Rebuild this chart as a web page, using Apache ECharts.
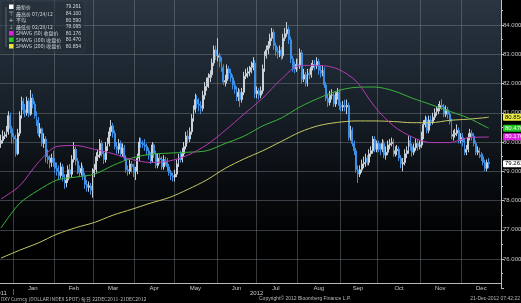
<!DOCTYPE html>
<html><head><meta charset="utf-8">
<script src="https://cdn.jsdelivr.net/npm/echarts@6/dist/echarts.min.js"></script>
<style>html,body{margin:0;padding:0;background:#000;overflow:hidden}#c{width:521px;height:303px}</style>
</head><body><div id="c"></div>
<script>
// ---- data (DXY daily bars, 22 Dec 2011 - 21 Dec 2012) ----
const monthNames = ['Jan','Feb','Mar','Apr','May','Jun','Jul','Aug','Sep','Oct','Nov','Dec'];
const startDate = '2011-12-22', lastTradeDate = '2012-12-21', axisEndDate = '2012-12-31';

const opens = [
79.95,80.05,80.20,80.25,80.35,80.90,80.45,
80.18,80.10,79.60,80.30,80.90,81.40,81.10,81.00,81.40,80.95,81.50,81.30,80.90,80.75,80.30,80.45,79.95,80.10,79.50,79.40,79.30,79.45,
79.30,79.10,79.00,78.85,79.15,78.80,78.60,78.70,79.05,78.90,79.40,79.75,79.35,79.05,78.95,79.10,78.85,78.55,78.45,78.50,78.35,
78.95,79.05,79.50,79.55,79.95,79.60,79.40,79.85,79.95,80.35,80.55,80.30,79.85,79.75,79.95,79.60,79.80,79.45,79.05,79.00,79.25,79.15,
78.95,79.00,79.45,80.00,79.95,79.90,79.85,79.70,79.55,79.35,79.90,79.60,79.20,79.45,79.40,79.15,79.40,79.35,79.15,78.95,78.85,
78.80,78.90,79.25,79.45,79.40,79.60,79.85,80.20,80.10,80.35,80.80,81.10,81.45,81.30,81.25,81.15,81.60,81.90,82.00,82.20,82.30,82.70,83.15,
82.90,82.95,82.75,82.55,82.05,82.10,82.50,82.35,82.20,81.95,81.80,81.55,81.70,81.45,81.70,82.25,82.35,82.40,82.45,82.55,82.70,
81.65,81.75,81.60,81.75,82.50,82.95,83.15,83.30,83.55,83.75,83.30,83.10,83.05,83.15,82.95,83.55,83.70,83.85,83.50,82.85,82.60,82.50,
82.65,82.60,83.05,82.15,82.30,82.00,82.35,82.30,82.55,82.65,82.60,82.75,82.45,82.35,82.45,81.95,81.50,81.35,81.60,81.60,81.30,81.55,81.70,
81.25,81.20,81.25,81.20,81.25,80.15,80.40,79.95,79.70,79.05,78.90,79.05,79.25,79.30,79.45,79.30,79.60,79.70,80.10,79.75,
79.95,79.80,79.75,79.95,79.55,79.65,79.90,79.95,80.00,79.60,79.70,79.75,79.45,79.25,79.30,79.60,79.70,80.05,79.85,79.65,79.80,79.95,79.85,
79.90,80.20,80.60,80.75,80.40,80.75,80.70,80.85,81.00,81.05,81.15,81.25,81.20,80.95,81.10,80.95,80.70,80.20,80.25,80.30,80.40,80.05,
80.15,80.00,79.65,79.75,80.15,80.30,80.20,79.95,79.65,79.70,79.55,79.50,79.30,79.10,79.30];

const closes = [
80.05,80.20,80.25,80.35,80.90,80.45,80.18,
80.10,79.60,80.30,80.90,81.40,81.10,81.00,81.40,80.95,81.50,81.30,80.90,80.75,80.30,80.45,79.95,80.10,79.50,79.40,79.30,79.45,79.30,
79.10,79.00,78.85,79.15,78.80,78.60,78.70,79.05,78.90,79.40,79.75,79.35,79.05,78.95,79.10,78.85,78.55,78.45,78.50,78.35,78.95,
79.05,79.50,79.55,79.95,79.60,79.40,79.85,79.95,80.35,80.55,80.30,79.85,79.75,79.95,79.60,79.80,79.45,79.05,79.00,79.25,79.15,78.95,
79.00,79.45,80.00,79.95,79.90,79.85,79.70,79.55,79.35,79.90,79.60,79.20,79.45,79.40,79.15,79.40,79.35,79.15,78.95,78.85,78.80,
78.90,79.25,79.45,79.40,79.60,79.85,80.20,80.10,80.35,80.80,81.10,81.45,81.30,81.25,81.15,81.60,81.90,82.00,82.20,82.30,82.70,83.15,82.95,
82.95,82.75,82.55,82.05,82.10,82.50,82.35,82.20,81.95,81.80,81.55,81.70,81.45,81.70,82.25,82.35,82.40,82.45,82.55,82.70,81.65,
81.75,81.60,81.75,82.50,82.95,83.15,83.30,83.55,83.75,83.30,83.10,83.05,83.15,82.95,83.55,83.70,83.85,83.50,82.85,82.60,82.50,82.65,
82.60,83.05,82.15,82.30,82.00,82.35,82.30,82.55,82.65,82.60,82.75,82.45,82.35,82.45,81.95,81.50,81.35,81.60,81.60,81.30,81.55,81.70,81.25,
81.20,81.25,81.20,81.25,80.15,80.40,79.95,79.70,79.05,78.90,79.05,79.25,79.30,79.45,79.30,79.60,79.70,80.10,79.75,79.95,
79.80,79.75,79.95,79.55,79.65,79.90,79.95,80.00,79.60,79.70,79.75,79.45,79.25,79.30,79.60,79.70,80.05,79.85,79.65,79.80,79.95,79.85,79.90,
80.20,80.60,80.75,80.40,80.75,80.70,80.85,81.00,81.05,81.15,81.25,81.20,80.95,81.10,80.95,80.70,80.20,80.25,80.30,80.40,80.05,80.15,
80.00,79.65,79.75,80.15,80.30,80.20,79.95,79.65,79.70,79.55,79.50,79.30,79.10,79.30,79.261];

const highs = [
80.25,80.40,80.35,80.55,81.05,81.00,80.55,
80.30,80.25,80.45,81.05,81.55,81.50,81.30,81.55,81.50,81.78,81.65,81.40,81.05,80.85,80.65,80.50,80.30,80.20,79.75,79.55,79.60,79.70,
79.45,79.30,79.20,79.30,79.25,78.90,78.90,79.20,79.25,79.55,80.00,79.85,79.45,79.20,79.30,79.20,78.95,78.70,78.65,78.60,79.10,
79.25,79.65,79.75,80.10,80.05,79.70,80.00,80.15,80.50,80.75,80.65,80.40,80.00,80.10,80.05,79.95,79.90,79.55,79.20,79.40,79.35,79.25,
79.15,79.60,80.15,80.15,80.05,80.10,79.95,79.80,79.65,80.00,79.95,79.70,79.60,79.60,79.50,79.55,79.50,79.45,79.25,79.05,78.95,
79.05,79.40,79.60,79.70,79.80,80.00,80.35,80.40,80.50,80.95,81.25,81.65,81.60,81.50,81.40,81.75,82.05,82.20,82.35,82.45,82.85,83.30,83.30,
83.55,83.05,82.90,82.65,82.30,82.65,82.60,82.50,82.30,82.10,81.90,81.85,81.80,81.85,82.40,82.50,82.55,82.60,82.75,82.90,82.80,
81.90,81.85,81.90,82.65,83.10,83.30,83.45,83.70,83.90,83.85,83.40,83.25,83.30,83.25,83.70,83.90,84.10,83.95,83.60,82.95,82.75,82.85,
82.85,83.20,83.15,82.50,82.40,82.50,82.50,82.70,82.80,82.80,82.90,82.85,82.60,82.60,82.55,82.05,81.65,81.75,81.80,81.70,81.70,81.85,81.80,
81.35,81.40,81.45,81.45,81.35,80.55,80.50,80.05,79.80,79.20,79.20,79.40,79.50,79.60,79.55,79.75,79.85,80.20,80.20,80.05,
80.05,79.95,80.10,80.05,79.85,80.05,80.10,80.15,80.10,79.85,79.90,79.85,79.55,79.45,79.75,79.85,80.20,80.20,79.95,79.95,80.10,80.10,80.05,
80.35,80.75,80.90,80.85,80.90,80.90,81.00,81.15,81.20,81.30,81.40,81.46,81.30,81.25,81.20,81.05,80.80,80.40,80.45,80.60,80.50,80.30,
80.30,80.10,79.90,80.30,80.45,80.40,80.30,80.05,79.85,79.80,79.65,79.60,79.40,79.40,79.45];

const lows = [
79.80,79.95,80.10,80.15,80.25,80.30,79.95,
79.95,79.50,79.55,80.20,80.80,80.95,80.85,80.90,80.85,80.90,81.15,80.80,80.55,80.20,80.15,79.85,79.80,79.30,79.25,79.10,79.15,79.15,
78.95,78.85,78.70,78.75,78.65,78.40,78.45,78.60,78.75,78.80,79.30,79.20,78.90,78.80,78.85,78.70,78.40,78.30,78.30,78.20,78.095,
78.80,78.95,79.35,79.45,79.50,79.25,79.30,79.70,79.85,80.20,80.15,79.75,79.60,79.60,79.50,79.50,79.35,78.95,78.85,78.90,78.95,78.80,
78.70,78.90,79.35,79.80,79.80,79.70,79.55,79.40,79.25,79.30,79.45,79.10,79.10,79.25,79.05,79.05,79.20,79.00,78.85,78.70,78.65,
78.65,78.80,79.15,79.30,79.30,79.50,79.75,79.95,80.00,80.25,80.70,81.00,81.15,81.05,80.95,81.05,81.45,81.75,81.85,82.05,82.20,82.60,82.80,
82.75,82.55,82.40,81.95,81.90,82.00,82.15,82.05,81.80,81.65,81.40,81.40,81.20,81.35,81.60,82.15,82.20,82.25,82.35,82.45,81.50,
81.50,81.45,81.50,81.65,82.40,82.85,83.00,83.20,83.45,83.15,82.95,82.85,82.90,82.80,82.85,83.45,83.60,83.35,82.70,82.40,82.35,82.40,
82.45,82.50,82.00,82.05,81.90,81.90,82.15,82.20,82.45,82.45,82.50,82.30,82.20,82.25,81.85,81.40,81.20,81.25,81.45,81.20,81.20,81.45,81.10,
81.05,81.05,81.05,80.95,80.05,80.05,79.85,79.55,78.95,78.60,78.80,78.95,79.10,79.15,79.20,79.20,79.50,79.60,79.65,79.65,
79.65,79.55,79.65,79.45,79.40,79.55,79.75,79.85,79.50,79.50,79.55,79.35,79.10,79.00,79.20,79.45,79.60,79.70,79.50,79.55,79.70,79.70,79.75,
79.80,80.10,80.50,80.30,80.30,80.55,80.60,80.75,80.90,80.95,81.05,81.10,80.85,80.85,80.80,80.60,80.10,80.05,80.15,80.20,79.95,79.95,
79.85,79.55,79.55,79.65,80.05,80.05,79.85,79.55,79.55,79.45,79.35,79.20,79.00,79.00,79.10];

// moving averages at every 10th trading day (+ last day)
const maIndex = [0,10,20,30,40,50,60,70,80,90,100,110,120,130,140,150,160,170,180,190,200,210,220,230,240,250,260,261];
const sma50  = [78.05,78.5,79.3,79.85,79.88,79.75,79.6,79.4,79.3,79.35,79.55,79.9,80.4,80.95,81.5,82.15,82.62,82.62,82.5,82.08,81.2,80.55,80.17,79.98,79.98,80.15,80.17,80.176];
const sma100 = [77.06,77.9,78.35,78.7,78.8,78.9,79.2,79.45,79.58,79.62,79.65,79.7,79.95,80.2,80.55,80.82,81.2,81.5,81.75,81.87,81.88,81.75,81.5,81.28,81.05,80.82,80.5,80.47];
const sma200 = [76.03,76.3,76.55,76.85,77.07,77.25,77.5,77.7,77.91,78.1,78.38,78.7,79.1,79.42,79.7,80.02,80.34,80.56,80.67,80.72,80.72,80.7,80.66,80.66,80.74,80.78,80.84,80.854];

const legendLabels = ['最新价','最高价 07/24/12','平均','最低价 02/29/12','SMAVG (50) 收盘价','SMAVG (100) 收盘价','SMAVG (200) 收盘价'];
const legendValues = ['79.261','84.100','80.590','78.095','80.176','80.470','80.854'];
const yTicks = {min: 75, max: 85, step: 1};

// ---- categories: weekdays ----
const dates = [];
(function(){
  let t = Date.parse(startDate + 'T00:00:00Z'); const end = Date.parse(axisEndDate + 'T00:00:00Z');
  while (t <= end) { const d = new Date(t); const wd = d.getUTCDay(); if (wd !== 0 && wd !== 6) dates.push(d.toISOString().slice(0,10)); t += 86400000; }
})();
if (new Set([opens.length, closes.length, highs.length, lows.length]).size !== 1 || dates.indexOf(lastTradeDate) !== closes.length - 1)
  console.error('length mismatch', opens.length, closes.length, highs.length, lows.length, dates.indexOf(lastTradeDate));

const monthFirst = {}, monthLast = {};
dates.forEach((d,i) => { const k = d.slice(0,7); if (!(k in monthFirst)) monthFirst[k] = i; monthLast[k] = i; });
const boundarySet = new Set(); const labelMap = {};
Object.keys(monthFirst).forEach(k => {
  if (k.startsWith('2012')) {
    boundarySet.add(monthFirst[k]);
    labelMap[Math.floor((monthFirst[k] + monthLast[k]) / 2)] = monthNames[+k.slice(5,7) - 1];
  }
});

const candles = closes.map((c,i) => [opens[i], c, lows[i], highs[i]]);
const maData = arr => maIndex.map((ix,k) => [ix, arr[k]]);

const FONT = 'Liberation Sans';
const CJK = 'Noto Sans CJK SC';
function tag(value, bg, fg) {
  return {
    silent: true, symbol: 'none', animation: false,
    lineStyle: {color: 'rgba(0,0,0,0)', width: 0},
    data: [{yAxis: value}],
    label: {show: true, position: 'end', distance: 2, formatter: () => value.toFixed(3),
      backgroundColor: bg, color: fg, fontSize: 6, fontFamily: FONT, padding: [1,2,0,2], borderRadius: 1}
  };
}
function maSeries(name, arr, color, tagBg, tagFg) {
  return {type: 'line', name, data: maData(arr), smooth: 0.3, symbol: 'none', z: 3,
    lineStyle: {color, width: 1}, itemStyle: {color}, emphasis: {disabled: true},
    markLine: tag(arr[arr.length-1], tagBg, tagFg)};
}

// legend graphic
const legendEls = [
  {type:'rect', shape:{x:1,y:1,width:84,height:51}, style:{fill:'rgba(36,46,56,0.5)', stroke:'rgba(90,100,110,0.4)', lineWidth:0.5}, z:20},
  {type:'line', shape:{x1:6,y1:7,x2:6,y2:47}, style:{stroke:'#8a9098', lineWidth:0.6}, z:21}
];
const rowY = [7,14,20.5,27,33.5,40,46.5];
const iconColors = ['#ffffff', null, null, null, '#e020e0', '#22d022', '#e6e640'];
const iconGlyph = [null, '⊤', '+', '⊥', null, null, null];
legendLabels.forEach((lab,i) => {
  if (iconColors[i]) legendEls.push({type:'rect', shape:{x:9,y:rowY[i]-2.5,width:4.5,height:4.5}, style:{fill:iconColors[i]}, z:21});
  if (iconGlyph[i]) legendEls.push({type:'text', x:11, y:rowY[i], style:{text:iconGlyph[i], fill:'#d0d0d0', font:'6px DejaVu Sans', textAlign:'center', textVerticalAlign:'middle'}, z:21});
  legendEls.push({type:'text', x:16, y:rowY[i], style:{text:lab, fill:'#d0d4d8', font:'5px "'+CJK+'"', textVerticalAlign:'middle'}, z:21});
  legendEls.push({type:'text', x:81, y:rowY[i], style:{text:legendValues[i], fill:'#d0d4d8', font:'5px '+FONT, textAlign:'right', textVerticalAlign:'middle'}, z:21});
});

const chart = echarts.init(document.getElementById('c'), null, {renderer:'canvas'});
chart.setOption({
  animation: false,
  backgroundColor: '#000',
  grid: {left: 0, right: 20, top: -4.25, bottom: 14.75, show: true, borderWidth: 0, containLabel: false, outerBoundsMode: 'none',
    backgroundColor: {type:'linear', x:0, y:0, x2:0, y2:1, colorStops:[
      {offset:0, color:'#2a3642'}, {offset:0.35, color:'#19222b'}, {offset:0.65, color:'#080b0e'}, {offset:0.85, color:'#000'}, {offset:1, color:'#000'}]}},
  xAxis: [
    {type:'category', data: dates, boundaryGap: true, position:'top',
      axisLine:{show:false}, axisTick:{show:false}, axisLabel:{show:false},
      splitLine:{show:true, interval: (i) => boundarySet.has(i), lineStyle:{color:'rgba(120,130,140,0.45)', width:1}}},
    {type:'category', data: dates, boundaryGap: true, position:'bottom', offset: -5.25, z: 10,
      axisLine:{show:true, onZero:false, lineStyle:{color:'#b8b8b8', width:1}},
      axisTick:{show:false}, splitLine:{show:false},
      axisLabel:{show:true, interval: (i) => (i in labelMap), formatter: (v,i) => labelMap[i] || '', color:'#c8c8c8', fontSize:6, fontFamily:FONT, margin:2}}
  ],
  yAxis: {type:'value', position:'right', min: yTicks.min, max: yTicks.max, interval: yTicks.step, scale: true,
    axisLine:{show:true, lineStyle:{color:'#c0c0c0', width:1}},
    axisTick:{show:true, length:3, lineStyle:{color:'#c0c0c0'}},
    minorTick:{show:true, splitNumber:2, length:2, lineStyle:{color:'#c0c0c0'}},
    splitLine:{show:true, lineStyle:{color:'rgba(120,130,140,0.45)', width:1}},
    axisLabel:{show:true, showMinLabel:false, showMaxLabel:false, formatter: v => v.toFixed(3), color:'#c8c8c8', fontSize:6, fontFamily:FONT, margin:2}},
  series: [
    {type:'candlestick', name:'DXY', data: candles, xAxisIndex:0, barWidth: 1.4, z: 2,
      itemStyle:{color:'#c9d0d8', color0:'#3d8fe6', borderColor:'#c9d0d8', borderColor0:'#3d8fe6', borderColorDoji:'#c9d0d8', borderWidth:1},
      emphasis:{disabled:true},
      markLine: tag(closes[closes.length-1], '#ffffff', '#000')},
    maSeries('SMAVG (200)', sma200, '#c8c864', '#eeee44', '#000'),
    maSeries('SMAVG (100)', sma100, '#3cb43c', '#22c422', '#fff'),
    maSeries('SMAVG (50)', sma50, '#b43cb4', '#e020e0', '#fff')
  ],
  graphic: [
    {type:'rect', shape:{x:0,y:284,width:501,height:19}, style:{fill:'#000'}, z:5},
    {type:'text', x:-6, y:293, style:{text:'2011', fill:'#c8c8c8', font:'6px '+FONT, textVerticalAlign:'middle'}, z:11},
    {type:'line', shape:{x1:13.5,y1:289,x2:13.5,y2:295}, style:{stroke:'#a0a0a0', lineWidth:0.6}, z:11},
    {type:'text', x:250, y:293, style:{text:'2012', fill:'#c8c8c8', font:'6px '+FONT, textVerticalAlign:'middle'}, z:11},
    {type:'text', x:1, y:299, style:{text:'DXY Curncy (DOLLAR INDEX SPOT) 每日 22DEC2011-21DEC2012', fill:'#b8b8b8', font:'5px "'+CJK+'"', textVerticalAlign:'middle'}, z:11},
    {type:'text', x:259, y:299, style:{text:'Copyright© 2012 Bloomberg Finance L.P.', fill:'#b8b8b8', font:'5px '+FONT, textVerticalAlign:'middle'}, z:11},
    {type:'text', x:520, y:299, style:{text:'21-Dec-2012 07:42:22', fill:'#b8b8b8', font:'5px '+FONT, textAlign:'right', textVerticalAlign:'middle'}, z:11},
    ...legendEls
  ]
});
</script></body></html>
